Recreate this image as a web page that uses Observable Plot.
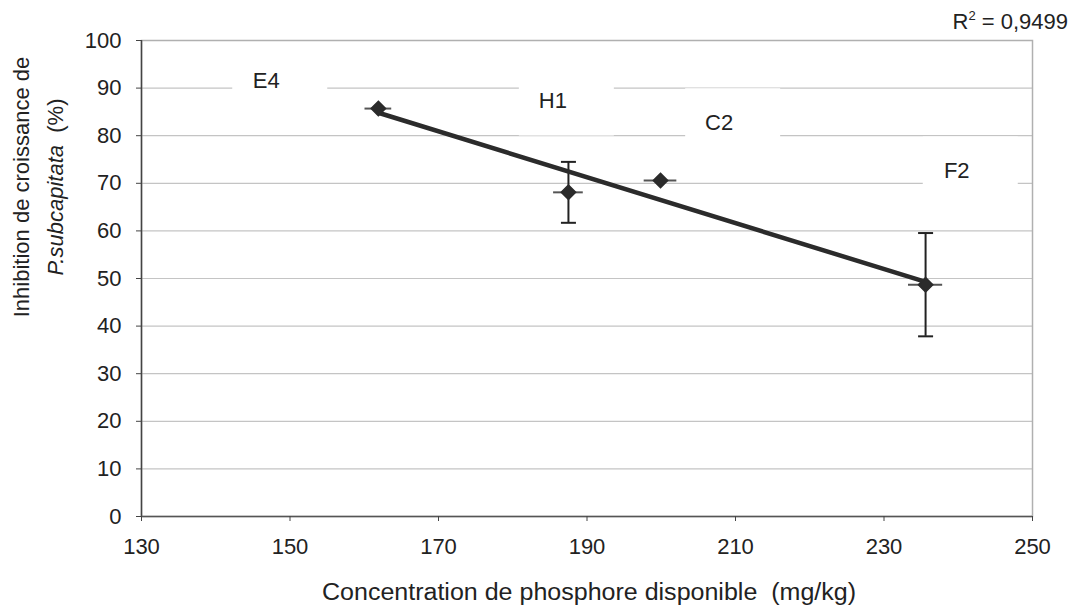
<!DOCTYPE html>
<html><head><meta charset="utf-8">
<script src="https://cdn.jsdelivr.net/npm/d3@7"></script>
<script src="https://cdn.jsdelivr.net/npm/@observablehq/plot@0.6"></script>
<style>
body{margin:0;background:#fff;}
#chart svg{display:block;}
</style>
</head><body><div id="chart"></div>
<script>
// ---- data ----
const sites = ["E4", "H1", "C2", "F2"];
const phosphore = [161.9, 187.5, 199.9, 235.6];      // mg/kg
const phosphoreErr = [1.8, 2.0, 2.2, 2.3];
const inhibition = [85.7, 68.1, 70.6, 48.7];         // %
const inhibitionErr = [0.8, 6.4, 0.8, 10.85];
const labelX = [146.8, 185.4, 207.8, 239.8];
const labelY = [91.6, 87.4, 82.6, 72.5];
const xTicks = [130, 150, 170, 190, 210, 230, 250];
const yTicks = [0, 10, 20, 30, 40, 50, 60, 70, 80, 90, 100];
const r2Text = "0,9499";
const xTitle = "Concentration de phosphore disponible  (mg/kg)";
const yTitle1 = "Inhibition de croissance de";
const yTitle2a = "P.subcapitata";
const yTitle2b = "  (%)";

const data = sites.map((s, i) => ({
  site: s, x: phosphore[i], ex: phosphoreErr[i], y: inhibition[i], ey: inhibitionErr[i]
}));
const labels = sites.map((s, i) => ({site: s, x: labelX[i], y: labelY[i]}));
const caps = data.filter(d => d.ey > 1).flatMap(d => [
  {x: d.x, y: d.y + d.ey}, {x: d.x, y: d.y - d.ey}
]);

const boxSymbol = {draw(ctx) { ctx.rect(-34, -35, 95, 70); }};
const capSymbol = {draw(ctx) { ctx.moveTo(-7.5, 0); ctx.lineTo(7.5, 0); }};

const W = 1076, H = 607;
const FONT = "'Liberation Sans', Arial, sans-serif";
const NARROW = "'Liberation Sans Narrow', 'Arial Narrow', 'Liberation Sans', sans-serif";

const chart = Plot.plot({
  width: W, height: H,
  marginLeft: 141, marginRight: 44, marginTop: 40, marginBottom: 91,
  style: {fontFamily: FONT, fontSize: "22px", color: "#222", background: "#fff"},
  x: {domain: [130, 250]},
  y: {domain: [0, 100]},
  marks: [
    Plot.ruleY(yTicks.filter(d => d > 0 && d < 100), {stroke: "#c4c4c4", strokeWidth: 1.2}),
    Plot.frame({stroke: "#b0b0b0", strokeWidth: 1.5}),
    Plot.dot(labels, {x: "x", y: "y", symbol: boxSymbol, fill: "white", stroke: "none", r: 10}),
    Plot.ruleX(data, {x: "x", y1: d => d.y - d.ey, y2: d => d.y + d.ey, stroke: "#222", strokeWidth: 2}),
    Plot.dot(caps, {x: "x", y: "y", symbol: capSymbol, stroke: "#222", strokeWidth: 2, fill: "none", r: 5}),
    Plot.ruleY(data, {y: "y", x1: d => d.x - d.ex, x2: d => d.x + d.ex, stroke: "#555", strokeWidth: 2}),
    Plot.linearRegressionY(data, {x: "x", y: "y", ci: 0, stroke: "#2b2b2b", strokeWidth: 4.5}),
    Plot.dot(data, {x: "x", y: "y", symbol: "diamond2", r: 6.5, fill: "#2b2b2b", stroke: "#2b2b2b"}),
    Plot.text(labels, {x: "x", y: "y", text: "site", fontSize: 22, fill: "#222"}),
    Plot.ruleX([130], {stroke: "#444", strokeWidth: 1.5}),
    Plot.ruleY([0], {stroke: "#555", strokeWidth: 1.5}),
    Plot.axisX({ticks: xTicks, tickSize: 5, tickPadding: 17, label: null, fontSize: 22, fontFamily: NARROW, stroke: "#444"}),
    Plot.axisY({ticks: yTicks, tickSize: 5, tickPadding: 15, label: null, fontSize: 22, stroke: "#444"})
  ]
});

const svg = d3.select(chart);
// x title
svg.append("text")
  .attr("x", 589).attr("y", 600)
  .attr("text-anchor", "middle")
  .attr("font-family", FONT).attr("font-size", 23).attr("fill", "#222")
  .attr("textLength", 534).attr("lengthAdjust", "spacingAndGlyphs")
  .text(xTitle);
// y title (two lines, second line partly italic)
const yt = svg.append("g").attr("transform", "translate(0,187) rotate(-90)")
  .attr("font-family", FONT).attr("font-size", 22).attr("fill", "#222").attr("text-anchor", "middle");
yt.append("text").attr("x", 0).attr("y", 29).text(yTitle1);
const t2 = yt.append("text").attr("x", 0).attr("y", 63).attr("xml:space", "preserve");
t2.append("tspan").attr("font-style", "italic").text(yTitle2a);
t2.append("tspan").text(yTitle2b);
// R² annotation
const r2 = svg.append("text").attr("x", 1068).attr("y", 29).attr("text-anchor", "end")
  .attr("font-family", FONT).attr("font-size", 22).attr("fill", "#222");
r2.append("tspan").text("R");
r2.append("tspan").attr("font-size", 13).attr("dy", -9).text("2");
r2.append("tspan").attr("dy", 9).text(" = " + r2Text);

document.getElementById("chart").appendChild(chart);
</script>
</body></html>
